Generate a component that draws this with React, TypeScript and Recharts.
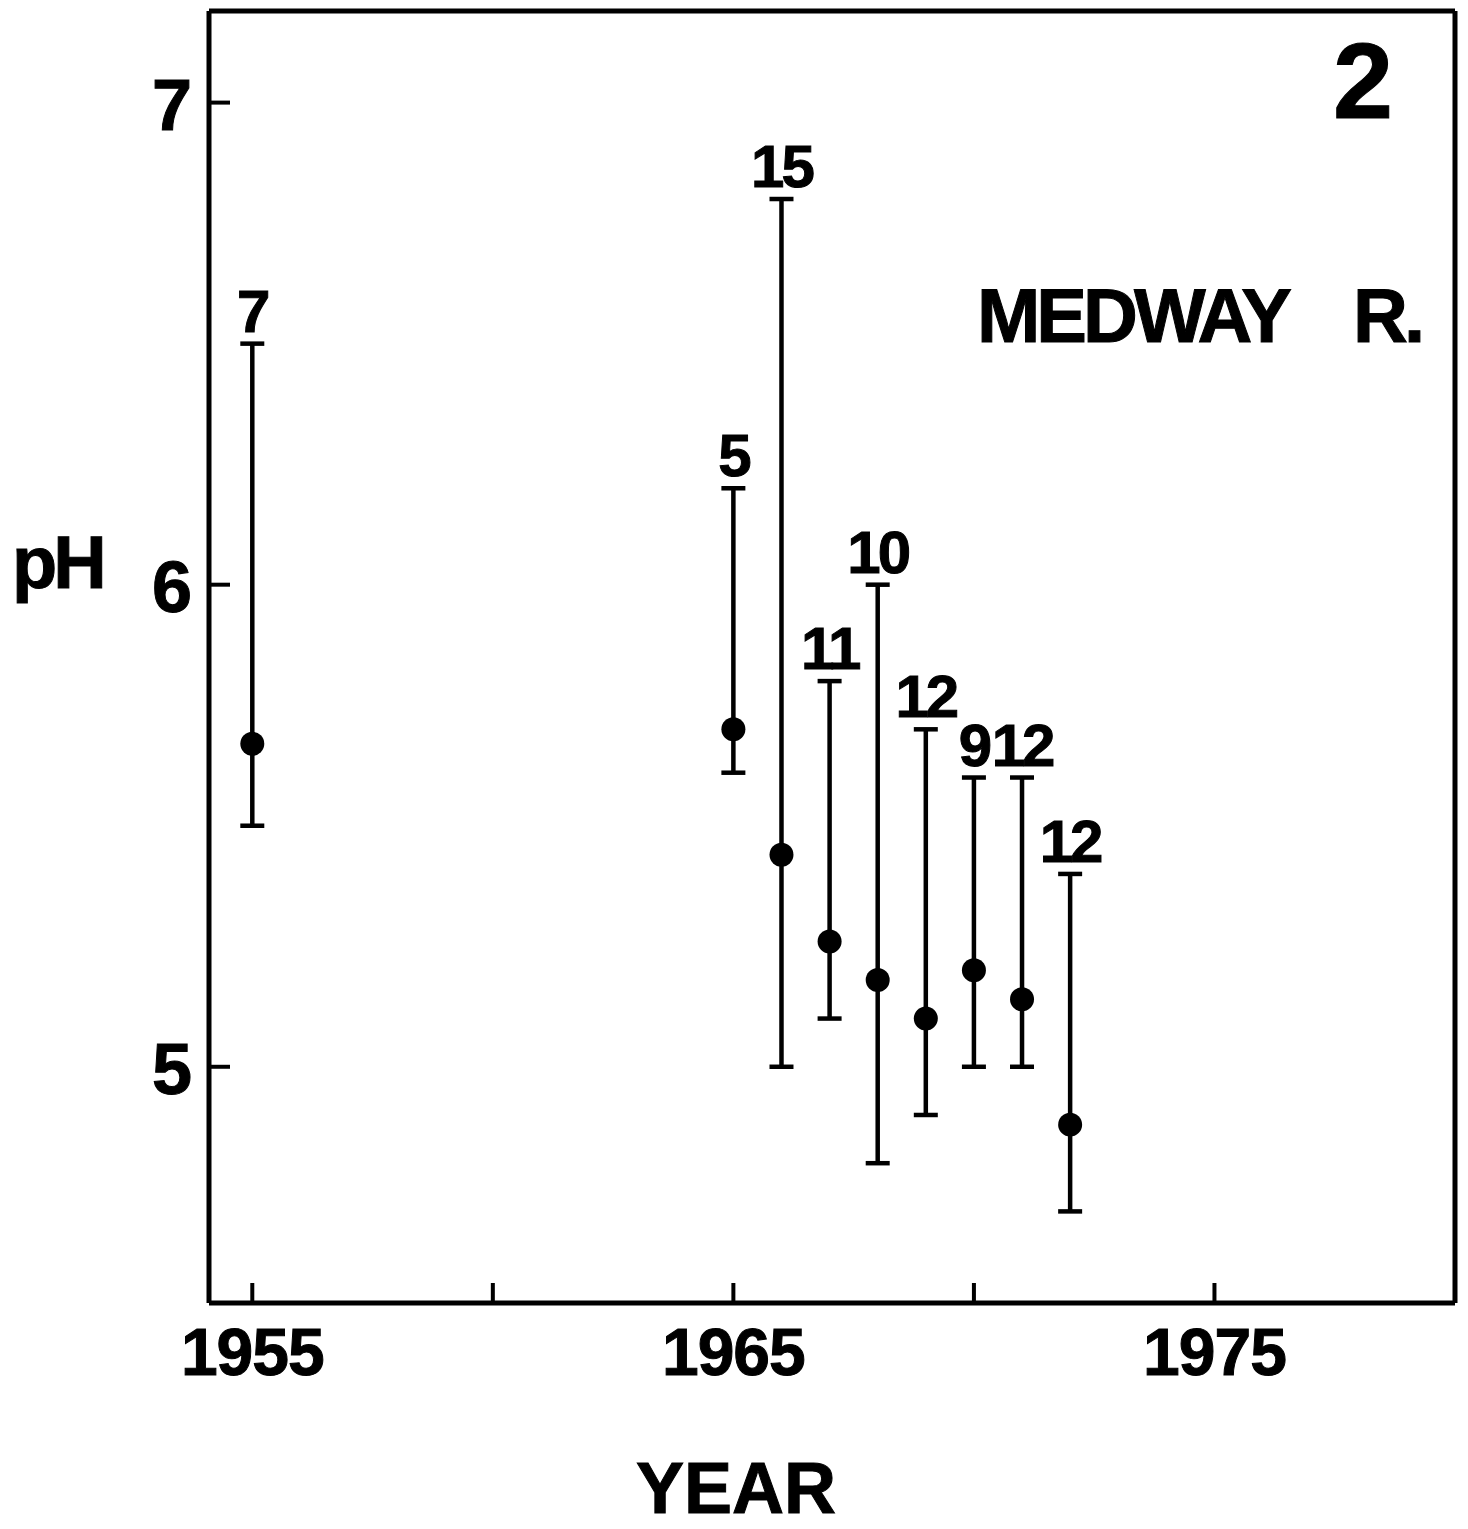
import React from 'react';
import { ComposedChart, Scatter, XAxis, YAxis, ErrorBar } from 'recharts';

const years = [1955, 1965, 1966, 1967, 1968, 1969, 1970, 1971, 1972];
const means = [5.67, 5.70, 5.44, 5.26, 5.18, 5.10, 5.20, 5.14, 4.88];
const highs = [6.5, 6.2, 6.8, 5.8, 6.0, 5.7, 5.6, 5.6, 5.4];
const lows = [5.5, 5.61, 5.0, 5.1, 4.8, 4.9, 5.0, 5.0, 4.7];
const counts = [7, 5, 15, 11, 10, 12, 9, 12, 12];

const xTicks = [1955, 1960, 1965, 1970, 1975];
const xTickLabels = ['1955', '', '1965', '', '1975'];
const yTicks = [5, 6, 7];
const yTickLabels = ['5', '6', '7'];

const X_DOMAIN: [number, number] = [1954.1, 1980];
const Y_DOMAIN: [number, number] = [4.51, 7.19];

const FONT = '"Liberation Sans", Arial, Helvetica, sans-serif';

const data = years.map((y, i) => ({
  year: y,
  mean: means[i],
  high: highs[i],
  low: lows[i],
  n: counts[i],
  err: [means[i] - lows[i], highs[i] - means[i]],
}));

const XTick = (props: any) => {
  const { x, y, payload } = props;
  const idx = xTicks.indexOf(payload.value);
  const label = idx >= 0 ? xTickLabels[idx] : '';
  return (
    <g>
      <line x1={x} y1={y} x2={x} y2={y - 20} stroke="#000" strokeWidth={4} />
      {label && (
        <text x={x} y={y + 72} textAnchor="middle" fontFamily={FONT} fontWeight={700} fontSize={66} letterSpacing={-1} fill="#000" stroke="#000" strokeWidth={1}>
          {label}
        </text>
      )}
    </g>
  );
};

const YTick = (props: any) => {
  const { x, y, payload } = props;
  const idx = yTicks.indexOf(payload.value);
  const label = idx >= 0 ? yTickLabels[idx] : '';
  return (
    <g>
      <line x1={x} y1={y} x2={x + 21} y2={y} stroke="#000" strokeWidth={4} />
      <text x={x - 17} y={y + 27} textAnchor="end" fontFamily={FONT} fontWeight={700} fontSize={72} fill="#000" stroke="#000" strokeWidth={1}>
        {label}
      </text>
    </g>
  );
};

const Dot = (props: any) => {
  const { cx, cy } = props;
  return <circle cx={cx} cy={cy} r={12} fill="#000" />;
};

const CountLabel = (props: any) => {
  const { cx, cy, payload } = props;
  return (
    <text x={cx} y={cy - 12} textAnchor="middle" fontFamily={FONT} fontWeight={700} fontSize={60} letterSpacing={-3} fill="#000" stroke="#000" strokeWidth={1}>
      {payload.n}
    </text>
  );
};

export default function App() {
  return (
    <div style={{ position: 'absolute', left: 0, top: 0, width: 1468, height: 1529, background: '#fff' }}>
      <ComposedChart
        width={1468}
        height={1529}
        data={data}
        margin={{ top: 10, right: 12, bottom: 225, left: 208 }}
      >
        <XAxis
          xAxisId="b"
          dataKey="year"
          type="number"
          domain={X_DOMAIN}
          ticks={xTicks}
          allowDataOverflow
          height={1}
          tickSize={0}
          tickMargin={0}
          tickLine={false}
          axisLine={{ stroke: '#000', strokeWidth: 5 }}
          tick={<XTick />}
          interval={0}
        />
        <XAxis
          xAxisId="t"
          orientation="top"
          type="number"
          domain={X_DOMAIN}
          allowDataOverflow
          height={1}
          tick={false}
          tickLine={false}
          axisLine={{ stroke: '#000', strokeWidth: 5 }}
        />
        <YAxis
          yAxisId="l"
          type="number"
          domain={Y_DOMAIN}
          ticks={yTicks}
          allowDataOverflow
          width={1}
          tickSize={0}
          tickMargin={0}
          tickLine={false}
          axisLine={{ stroke: '#000', strokeWidth: 5 }}
          tick={<YTick />}
          interval={0}
        />
        <YAxis
          yAxisId="r"
          orientation="right"
          type="number"
          domain={Y_DOMAIN}
          allowDataOverflow
          width={1}
          tick={false}
          tickLine={false}
          axisLine={{ stroke: '#000', strokeWidth: 5 }}
        />
        <Scatter
          xAxisId="b"
          yAxisId="l"
          dataKey="mean"
          isAnimationActive={false}
          shape={<Dot />}
        >
          <ErrorBar dataKey="err" direction="y" width={12} stroke="#000" strokeWidth={4.5} isAnimationActive={false} />
        </Scatter>
        <Scatter
          xAxisId="b"
          yAxisId="l"
          dataKey="high"
          isAnimationActive={false}
          shape={<CountLabel />}
        />
      </ComposedChart>
      <svg width={1468} height={1529} style={{ position: 'absolute', left: 0, top: 0, pointerEvents: 'none' }}>
        <g fontFamily={FONT} fontWeight={700} fill="#000" stroke="#000" strokeWidth={1}>
          <text x={1363} y={118} textAnchor="middle" fontSize={108}>2</text>
          <text x={977} y={342} fontSize={76} letterSpacing={-4}>MEDWAY</text>
          <text x={1353} y={342} fontSize={76} letterSpacing={-4}>R.</text>
          <text x={12} y={588} fontSize={74} letterSpacing={-4}>pH</text>
          <text x={736} y={1513} textAnchor="middle" fontSize={72}>YEAR</text>
        </g>
      </svg>
    </div>
  );
}
